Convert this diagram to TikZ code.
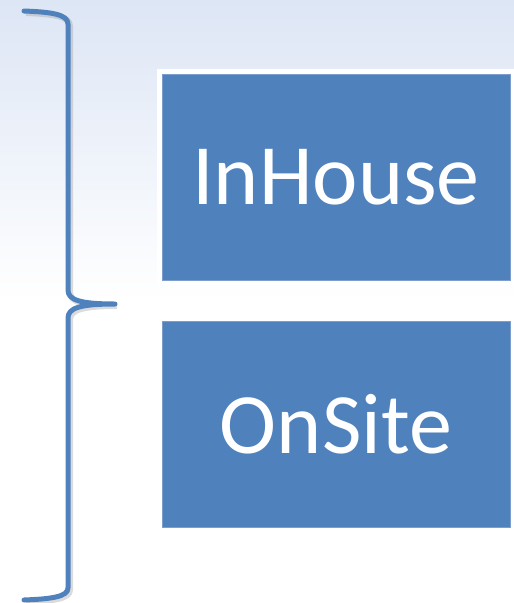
\documentclass[tikz,border=0pt]{standalone}
\usepackage{fontspec}
\setmainfont{Carlito}
\definecolor{boxblue}{RGB}{79,129,189}
\definecolor{boxrim}{RGB}{125,158,205}
\definecolor{bgtop}{RGB}{221,230,245}

\begin{document}
\begin{tikzpicture}[x=1pt, y=-1pt]
    % Define styles
    \tikzstyle{block} = [rectangle, minimum width=348pt, minimum height=206pt, inner sep=0pt, text centered, draw=boxrim, line width=0.8pt, fill=boxblue, text=white, font=\fontsize{86}{100}\selectfont, preaction={draw=white, line width=10pt}]
    \tikzstyle{brace} = [draw=boxblue, line width=5pt, line cap=round, line join=round, preaction={draw=black!40, opacity=0.35, line width=6pt, transform canvas={shift={(2pt,-2pt)}}}]

    % Background
    \useasboundingbox (0,0) rectangle (514,603);
    \shade [top color=bgtop, bottom color=white] (0,0) rectangle (514,300);

    % Nodes
    \node (inhouse) [block] at (336,177) {InHouse};
    \node (onsite) [block] at (336,424) {OnSite};

    % Brace
    \coordinate (tip) at (115,304);
    \draw [brace] (24,11) .. controls (50,12) and (68,14) .. (68,24) -- (68,290)
        .. controls (68,300) and (80,304) .. (tip)
        .. controls (80,304) and (68,308) .. (68,318) -- (68,588)
        .. controls (68,597) and (50,599) .. (24,600);
\end{tikzpicture}
\end{document}
